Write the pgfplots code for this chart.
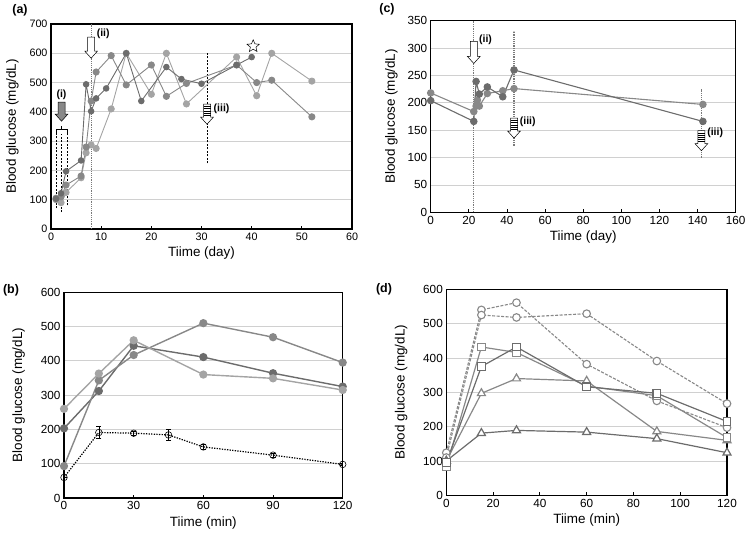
\documentclass[border=0pt]{standalone}
\usepackage{fontspec}
\setmainfont{Liberation Sans}
\usepackage{pgfplots}
\pgfplotsset{compat=1.18}

\definecolor{aD}{HTML}{6C6C6C}
\definecolor{aM}{HTML}{888888}
\definecolor{aL}{HTML}{A4A4A4}
\definecolor{gridc}{HTML}{D0D0D0}
\definecolor{vline}{HTML}{7A7A7A}

\pgfdeclareplotmark{ostar}{%
  \pgfpathmoveto{\pgfpointpolar{90}{\pgfplotmarksize}}%
  \pgfpathlineto{\pgfpointpolar{126}{0.45\pgfplotmarksize}}%
  \pgfpathlineto{\pgfpointpolar{162}{\pgfplotmarksize}}%
  \pgfpathlineto{\pgfpointpolar{198}{0.45\pgfplotmarksize}}%
  \pgfpathlineto{\pgfpointpolar{234}{\pgfplotmarksize}}%
  \pgfpathlineto{\pgfpointpolar{270}{0.45\pgfplotmarksize}}%
  \pgfpathlineto{\pgfpointpolar{306}{\pgfplotmarksize}}%
  \pgfpathlineto{\pgfpointpolar{342}{0.45\pgfplotmarksize}}%
  \pgfpathlineto{\pgfpointpolar{18}{\pgfplotmarksize}}%
  \pgfpathlineto{\pgfpointpolar{54}{0.45\pgfplotmarksize}}%
  \pgfpathclose\pgfusepathqfillstroke}

% #1 x, #2 ytop, #3 shaft length, #4 fill
\newcommand{\blockarrow}[4]{%
  \draw[black, line width=0.5bp, fill=#4] (axis cs:#1,#2) ++(-3.5bp,0bp) -- ++(0bp,-#3) -- ++(-2.8bp,0bp) -- ++(6.3bp,-7bp) -- ++(6.3bp,7bp) -- ++(-2.8bp,0bp) -- ++(0bp,#3) -- cycle;}
\newcommand{\stripedarrow}[2]{%
  \blockarrow{#1}{#2}{13bp}{white}
  \draw[line width=0.45bp] (axis cs:#1,#2) ++(-3.5bp,-2.2bp) -- ++(7bp,0bp);
  \draw[line width=0.45bp] (axis cs:#1,#2) ++(-3.5bp,-4.4bp) -- ++(7bp,0bp);
  \draw[line width=0.45bp] (axis cs:#1,#2) ++(-3.5bp,-6.6bp) -- ++(7bp,0bp);
  \draw[line width=0.45bp] (axis cs:#1,#2) ++(-3.5bp,-8.8bp) -- ++(7bp,0bp);
  \draw[line width=0.45bp] (axis cs:#1,#2) ++(-3.5bp,-11bp) -- ++(7bp,0bp);}

\tikzset{lab/.style={font=\bfseries\fontsize{10.5}{12}\selectfont, inner sep=0pt}}
\pgfplotsset{
  panel/.style={
    scale only axis, anchor=south west,
    axis line style={line width=1.1bp},
    ymajorgrids, grid style={gridc, line width=0.8bp},
    tick label style={font=\fontsize{11.8}{13}\selectfont},
    label style={font=\fontsize{13.5}{15}\selectfont},
    /pgf/number format/assume math mode=true,
    xtick pos=bottom, ytick pos=left,
    xtick align=inside, major tick length=3bp,
    xtick style={black, line width=0.8bp},
    ytick style={draw=none},
  },
}

\begin{document}
\begin{tikzpicture}[x=1bp,y=1bp]
\useasboundingbox (0,0) rectangle (746,542);

% ---------------- (a)
\begin{axis}[panel, at={(51bp,313bp)}, width=301bp, height=205bp,
  tick label style={font=\fontsize{10.8}{12}\selectfont},
  ylabel shift=4bp,
  xmin=0, xmax=60, ymin=0, ymax=700, xtick={0,10,...,60}, ytick={0,100,...,700},
  xlabel={Tiime (day)}, ylabel={Blood glucose (mg/dL)}]
\draw[vline, line width=1.1bp, dash pattern=on 1.2bp off 1bp] (axis cs:8,0) -- (axis cs:8,700);
\draw[black, line width=0.6bp, dash pattern=on 2bp off 1.5bp] (axis cs:1,70) -- (axis cs:1,326);
\draw[black, line width=0.6bp, dash pattern=on 2bp off 1.5bp] (axis cs:2,58) -- (axis cs:2,326);
\draw[black, line width=0.6bp, dash pattern=on 2bp off 1.5bp] (axis cs:3.2,81) -- (axis cs:3.2,326);
\draw[black, line width=0.6bp, dash pattern=on 2bp off 1.5bp] (axis cs:31.1,224) -- (axis cs:31.1,600);
\addplot[aL, line width=0.9bp, mark=*, mark size=3.1bp] coordinates {(1,100)(2,90)(3,125)(6,175)(7,260)(8,287)(9,275)(12,410)(15,600)(20,460)(23,600)(27,427)(37,587)(41,455)(44,600)(52,505)};
\addplot[aM, line width=0.9bp, mark=*, mark size=3.1bp] coordinates {(1,105)(2,110)(3,150)(6,181)(7,280)(8,437)(9,536)(12,592)(15,492)(20,560)(23,453)(27,497)(37,560)(41,500)(44,508)(52,383)};
\addplot[aD, line width=0.9bp, mark=*, mark size=2.8bp] coordinates {(1,103)(2,122)(3,197)(6,234)(7,494)(8,402)(9,446)(11,480)(15,600)(18,437)(23,553)(26,512)(30,496)(37,560)(40,587)};
\addplot[only marks, black, line width=0.5bp, mark=ostar, mark size=6.5bp, mark options={fill=white}] coordinates {(40.3,624)};
\draw[black, line width=0.6bp] (axis cs:1,326) -- (axis cs:1,340) -- (axis cs:3.2,340) -- (axis cs:3.2,326);
\draw[black, line width=0.6bp] (axis cs:2.1,340) -- (axis cs:2.1,350);
\blockarrow{2.1}{433}{12bp}{aM}
\node[lab, anchor=south] at (axis cs:2.1,440) {(i)};
\blockarrow{8}{655}{14bp}{white}
\node[lab, anchor=west] at (axis cs:9.1,667) {(ii)};
\stripedarrow{31.1}{426}
\node[lab, anchor=west] at (axis cs:32.4,410) {(iii)};
\end{axis}

% ---------------- (c)
\begin{axis}[panel, at={(430.7bp,329.7bp)}, width=305bp, height=191.6bp,
  ylabel shift=3bp,
  xmin=0, xmax=160, ymin=0, ymax=350, xtick={0,20,...,160}, ytick={0,50,...,350},
  xlabel={Tiime (day)}, ylabel={Blood glucose (mg/dL)}]
\draw[vline, line width=1.1bp, dash pattern=on 1.2bp off 1bp] (axis cs:22.6,0) -- (axis cs:22.6,350);
\draw[vline, line width=1.1bp, dash pattern=on 1.2bp off 1bp] (axis cs:43.7,122) -- (axis cs:43.7,331);
\draw[vline, line width=1.1bp, dash pattern=on 1.2bp off 1bp] (axis cs:142,100) -- (axis cs:142,225);
\addplot[aM, line width=1.1bp, mark=*, mark size=3.2bp] coordinates {(0,218)(22.6,184)(23.8,194)(24.5,205)(25.5,194)(29.7,217)(37.8,222)(43.7,226)(142.8,197)};
\addplot[aD, line width=1.1bp, mark=*, mark size=3.2bp] coordinates {(0,204)(22.6,166)(23.8,239)(25.5,216)(29.7,229)(37.8,211)(43.7,260)(142.8,166)};
\blockarrow{22.6}{312}{15bp}{white}
\node[lab, anchor=west] at (axis cs:25.3,316) {(ii)};
\stripedarrow{43.7}{172}
\node[lab, anchor=west] at (axis cs:46.7,166) {(iii)};
\stripedarrow{142}{149}
\node[lab, anchor=west] at (axis cs:145,146) {(iii)};
\end{axis}

% ---------------- (b)
\begin{axis}[panel, at={(64bp,44bp)}, width=278.7bp, height=205.7bp,
  ylabel shift=9bp,
  xmin=0, xmax=120, ymin=0, ymax=600, xtick={0,30,...,120}, ytick={0,100,...,600},
  xlabel={Tiime (min)}, ylabel={Blood glucose (mg/dL)}]
\addplot[aD, line width=1.4bp, mark=*, mark size=3.4bp] coordinates {(0,203)(15,312)(30,444)(60,411)(90,364)(120,325)};
\addplot[aM, line width=1.4bp, mark=*, mark size=3.4bp] coordinates {(0,93)(15,343)(30,417)(60,510)(90,469)(120,395)};
\addplot[aL, line width=1.4bp, mark=*, mark size=3.4bp] coordinates {(0,260)(15,363)(30,460)(60,360)(90,349)(120,315)};
\addplot[black, line width=1.2bp, dash pattern=on 1.3bp off 1.3bp, mark=o, mark size=3.3bp,
  mark options={solid, draw=black, line width=0.6bp},
  error bars/.cd, y dir=both, y explicit,
  error bar style={solid, black, line width=0.6bp},
  error mark options={rotate=90, mark size=2.5bp, solid, black, line width=0.6bp}]
  coordinates {(0,60) +- (0,0) (15,191) +- (0,17) (30,189) +- (0,6) (45,184) +- (0,17) (60,149) +- (0,8) (90,125) +- (0,5) (120,98) +- (0,4)};
\end{axis}

% ---------------- (d)
\begin{axis}[panel, at={(446.3bp,46.7bp)}, width=280.7bp, height=206bp,
  ylabel shift=9bp,
  xmin=0, xmax=120, ymin=0, ymax=600, xtick={0,20,...,120}, ytick={0,100,...,600},
  xlabel={Tiime (min)}, ylabel={Blood glucose (mg/dL)}]
\addplot[aM, line width=1.1bp, dash pattern=on 3bp off 1.5bp, mark=*, mark size=3.8bp, mark options={solid, fill=white}] coordinates {(0,124)(15,540)(30,561)(60,382)(90,275)(120,197)};
\addplot[aM, line width=1.1bp, dash pattern=on 3bp off 1.5bp, mark=*, mark size=3.8bp, mark options={solid, fill=white}] coordinates {(0,110)(15,525)(30,518)(60,529)(90,391)(120,267)};
\addplot[aM, line width=1.2bp, mark=triangle*, mark size=4.6bp, mark options={fill=white}] coordinates {(0,100)(15,297)(30,340)(60,333)(90,186)(120,160)};
\addplot[aD, line width=1.2bp, mark=triangle*, mark size=4.6bp, mark options={fill=white}] coordinates {(0,100)(15,181)(30,189)(60,184)(90,165)(120,124)};
\addplot[aM, line width=1.2bp, mark=square*, mark size=3.8bp, mark options={fill=white}] coordinates {(0,83)(15,432)(30,416)(60,318)(90,290)(120,168)};
\addplot[aD, line width=1.2bp, mark=square*, mark size=3.8bp, mark options={fill=white}] coordinates {(0,95)(15,375)(30,432)(60,316)(90,297)(120,215)};
\end{axis}

\node[font=\bfseries\fontsize{12.5}{14}\selectfont] at (20,532) {(a)};
\node[font=\bfseries\fontsize{12.5}{14}\selectfont] at (387,533) {(c)};
\node[font=\bfseries\fontsize{12.5}{14}\selectfont] at (11,252) {(b)};
\node[font=\bfseries\fontsize{12.5}{14}\selectfont] at (384,253) {(d)};
\end{tikzpicture}
\end{document}
